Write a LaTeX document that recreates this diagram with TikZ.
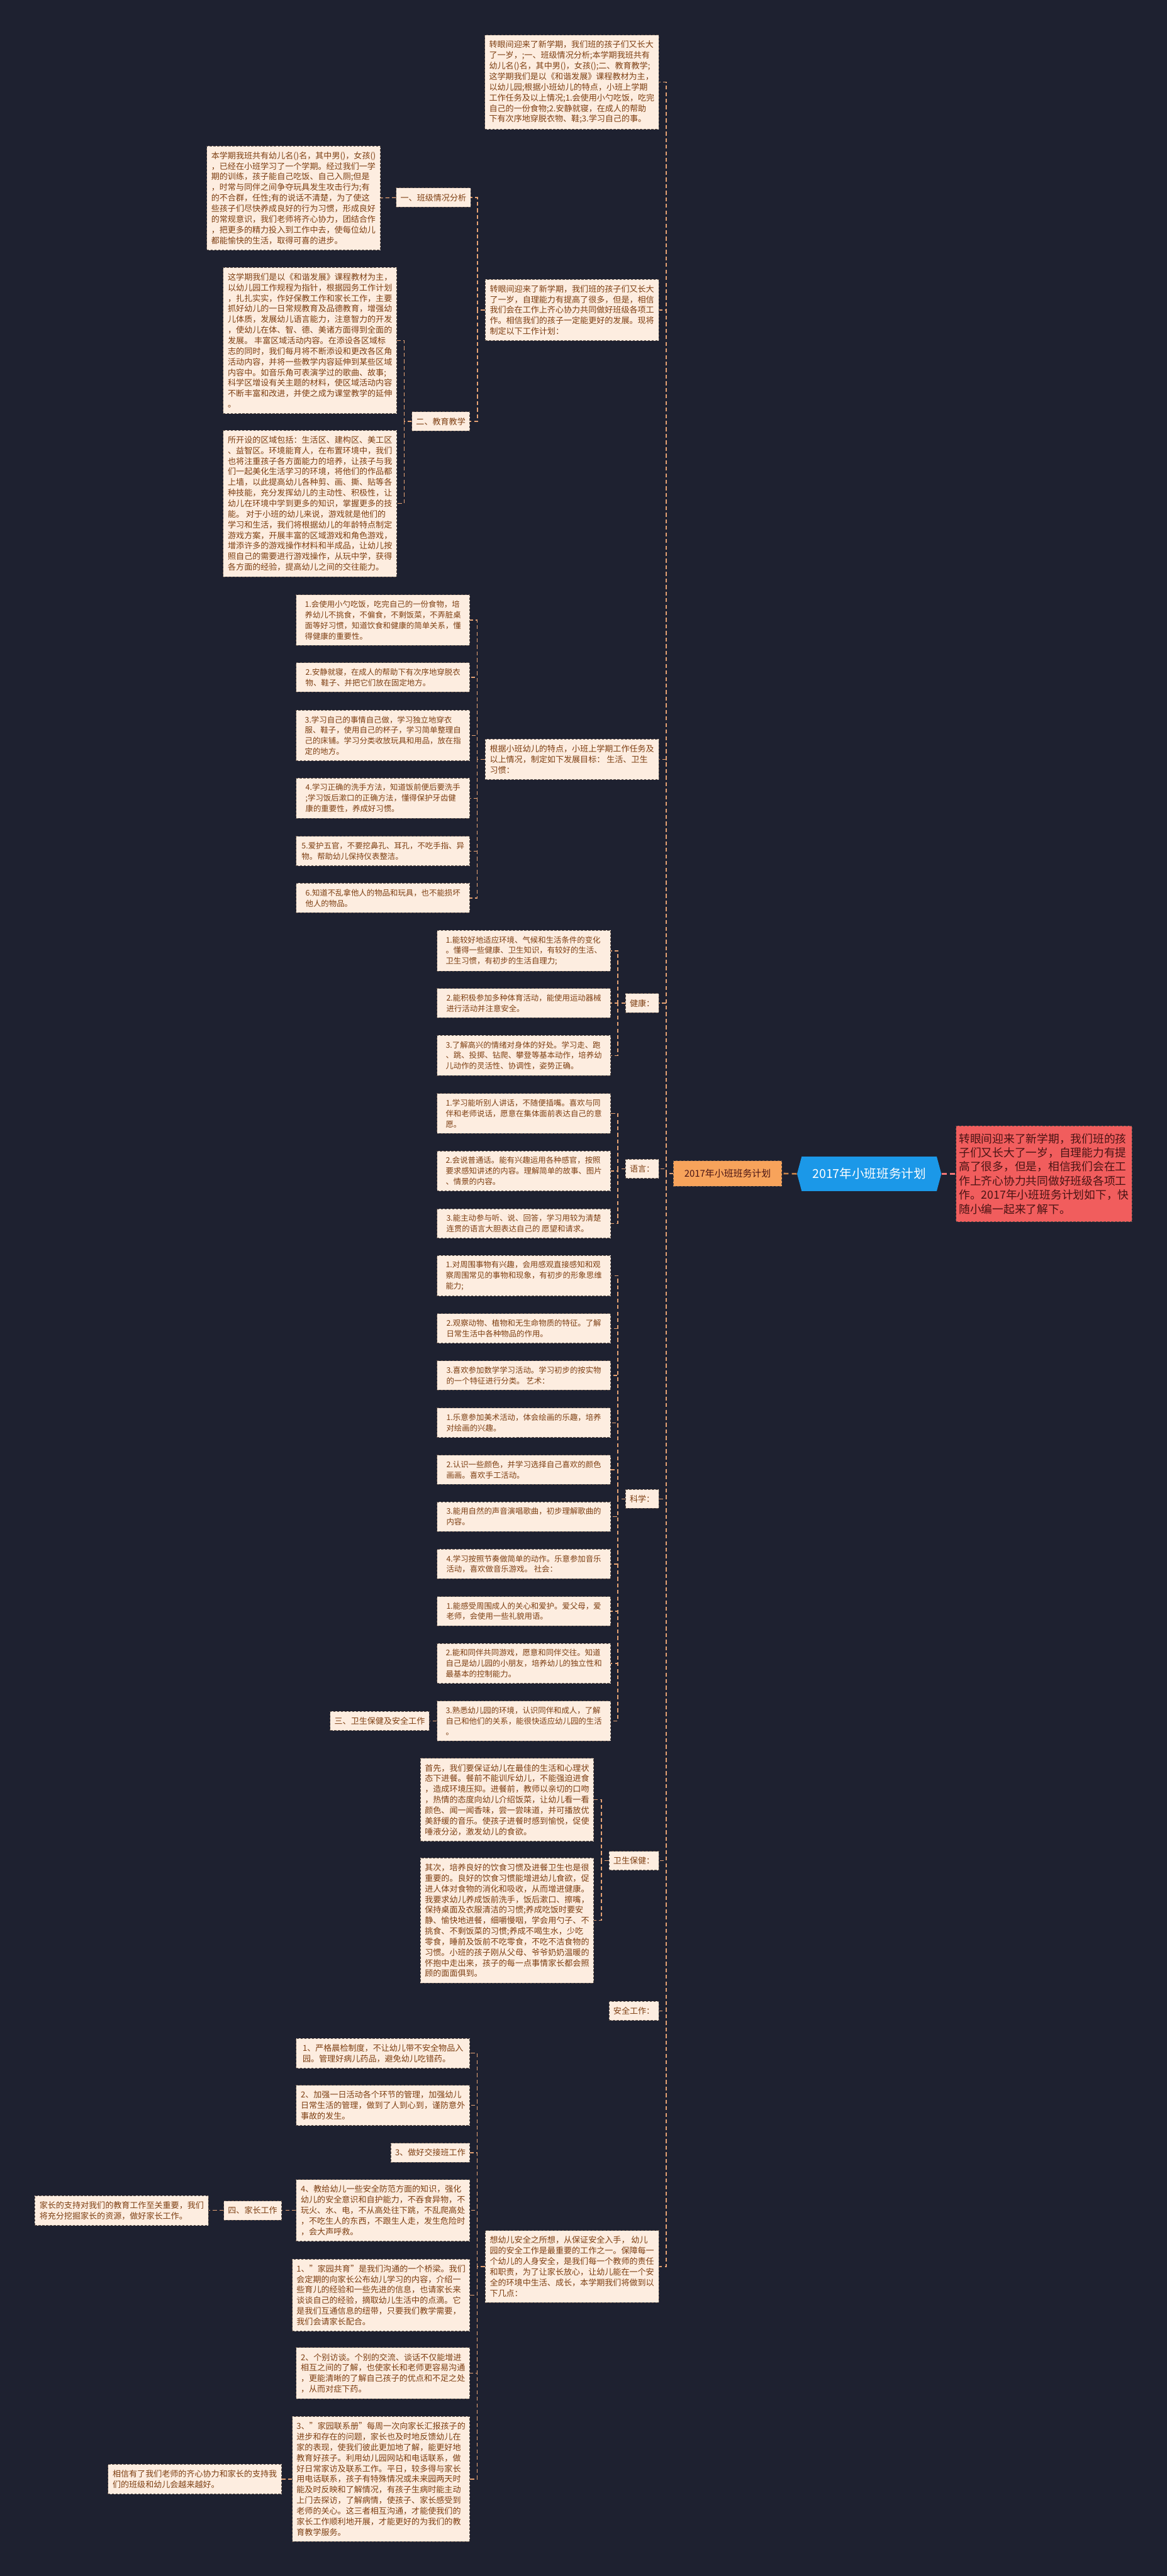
\documentclass[tikz,border=0pt]{standalone}
\usepackage{fontspec}
\setmainfont{Noto Sans CJK SC}
\usetikzlibrary{shapes.symbols}
\definecolor{bg}{HTML}{1E2130}
\definecolor{boxfill}{HTML}{FDEDE0}
\definecolor{boxline}{HTML}{5E5048}
\definecolor{boxtext}{HTML}{7E3F12}
\definecolor{linkc}{HTML}{E5A274}
\definecolor{rootc}{HTML}{1B98E8}
\definecolor{planc}{HTML}{F7A35B}
\definecolor{introc}{HTML}{F15D5D}
\definecolor{introtext}{HTML}{4A1414}
\begin{document}
\begin{tikzpicture}[x=1pt,y=-1pt,
    box/.style={draw=boxline,fill=boxfill,text=boxtext,line width=0.35pt,
      dash pattern=on 1.4pt off 0.9pt,align=left,inner xsep=2.6pt,inner ysep=3.5pt,
      minimum width=105.6pt,anchor=east,font=\fontsize{5}{6.45}\selectfont},
    spaced/.style={box,font=\fontsize{4.75}{6.45}\selectfont},
    tag/.style={box,minimum width=0pt},
    link/.style={draw=linkc,line width=0.5pt,dash pattern=on 2.4pt off 1.6pt}]
\useasboundingbox (0,0) rectangle (710,1568);
\fill[bg] (0,0) rectangle (710,1568);

% centre
\node[shape=signal,signal to=west and east,signal pointer angle=150,fill=rootc,text=white,
  minimum width=87.8pt,minimum height=21pt,inner sep=0pt,font=\fontsize{7.5}{8}\selectfont]
  (root) at (528.9,714.5) {2017年小班班务计划};
\node[draw=boxline,line width=0.35pt,dash pattern=on 1.4pt off 0.9pt,fill=planc,text=introtext,
  minimum width=66pt,minimum height=15.5pt,inner sep=0pt,font=\fontsize{5.7}{6}\selectfont]
  (plan) at (442.75,714.3) {2017年小班班务计划};
\node[draw=boxline,line width=0.35pt,dash pattern=on 1.4pt off 0.9pt,fill=introc,text=introtext,
  align=left,minimum width=107pt,minimum height=58.4pt,inner sep=0pt,font=\fontsize{6.8}{8.6}\selectfont]
  (intro) at (635.25,714.5) {转眼间迎来了新学期，我们班的孩\\子们又长大了一岁，自理能力有提\\高了很多，但是，相信我们会在工\\作上齐心协力共同做好班级各项工\\作。2017年小班班务计划如下，快\\随小编一起来了解下。};

% first part
\node[box] (summary) at (401,50) {转眼间迎来了新学期，我们班的孩子们又长大\\了一岁，;一、班级情况分析;本学期我班共有\\幼儿名()名，其中男()，女孩();二、教育教学;\\这学期我们是以《和谐发展》课程教材为主，\\以幼儿园;根据小班幼儿的特点，小班上学期\\工作任务及以上情况;1.会使用小勺吃饭，吃完\\自己的一份食物;2.安静就寝，在成人的帮助\\下有次序地穿脱衣物、鞋;3.学习自己的事。};
\node[box] (foreword) at (401,188.7) {转眼间迎来了新学期，我们班的孩子们又长大\\了一岁，自理能力有提高了很多，但是，相信\\我们会在工作上齐心协力共同做好班级各项工\\作。相信我们的孩子一定能更好的发展。现将\\制定以下工作计划：};
\node[tag] (class) at (286.5,120.25) {一、班级情况分析};
\node[box] (classtxt) at (231.6,120.5) {本学期我班共有幼儿名()名，其中男()，女孩()\\，已经在小班学习了一个学期。经过我们一学\\期的训练，孩子能自己吃饭、自己入厕;但是\\，时常与同伴之间争夺玩具发生攻击行为;有\\的不合群，任性;有的说话不清楚，为了使这\\些孩子们尽快养成良好的行为习惯，形成良好\\的常规意识，我们老师将齐心协力，团结合作\\，把更多的精力投入到工作中去，使每位幼儿\\都能愉快的生活，取得可喜的进步。};
\node[tag] (teach) at (286,256.5) {二、教育教学};
\node[box] (teach1) at (241.6,207.25) {这学期我们是以《和谐发展》课程教材为主，\\以幼儿园工作规程为指针，根据园务工作计划\\，扎扎实实，作好保教工作和家长工作，主要\\抓好幼儿的一日常规教育及品德教育，增强幼\\儿体质，发展幼儿语言能力，注意智力的开发\\，使幼儿在体、智、德、美诸方面得到全面的\\发展。 丰富区域活动内容。在添设各区域标\\志的同时，我们每月将不断添设和更改各区角\\活动内容，并将一些教学内容延伸到某些区域\\内容中。如音乐角可表演学过的歌曲、故事;\\科学区增设有关主题的材料，使区域活动内容\\不断丰富和改进，并使之成为课堂教学的延伸\\。};
\node[box] (teach2) at (241.6,306.5) {所开设的区域包括：生活区、建构区、美工区\\、益智区。环境能育人，在布置环境中，我们\\也将注重孩子各方面能力的培养，让孩子与我\\们一起美化生活学习的环境，将他们的作品都\\上墙，以此提高幼儿各种剪、画、撕、贴等各\\种技能，充分发挥幼儿的主动性、积极性，让\\幼儿在环境中学到更多的知识，掌握更多的技\\能。 对于小班的幼儿来说，游戏就是他们的\\学习和生活，我们将根据幼儿的年龄特点制定\\游戏方案，开展丰富的区域游戏和角色游戏，\\增添许多的游戏操作材料和半成品，让幼儿按\\照自己的需要进行游戏操作，从玩中学，获得\\各方面的经验，提高幼儿之间的交往能力。};

% goals
\node[box] (goals) at (401,462.25) {根据小班幼儿的特点，小班上学期工作任务及\\以上情况，制定如下发展目标： 生活、卫生\\习惯：};
\node[spaced] (g1) at (286,377.5) {1.会使用小勺吃饭，吃完自己的一份食物，培\\养幼儿不挑食，不偏食，不剩饭菜，不弄脏桌\\面等好习惯，知道饮食和健康的简单关系，懂\\得健康的重要性。};
\node[spaced] (g2) at (286,412.3) {2.安静就寝，在成人的帮助下有次序地穿脱衣\\物、鞋子、并把它们放在固定地方。};
\node[spaced] (g3) at (286,447.75) {3.学习自己的事情自己做，学习独立地穿衣\\服、鞋子，使用自己的杯子，学习简单整理自\\己的床铺。学习分类收放玩具和用品，放在指\\定的地方。};
\node[spaced] (g4) at (286,485.85) {4.学习正确的洗手方法，知道饭前便后要洗手\\;学习饭后漱口的正确方法，懂得保护牙齿健\\康的重要性，养成好习惯。};
\node[spaced] (g5) at (286,518) {5.爱护五官，不要挖鼻孔、耳孔，不吃手指、异\\物。帮助幼儿保持仪表整洁。};
\node[spaced] (g6) at (286,546.6) {6.知道不乱拿他人的物品和玩具，也不能损坏\\他人的物品。};

% health, language, science
\node[tag] (health) at (401,610.6) {健康：};
\node[spaced] (h1) at (371.7,578.75) {1.能较好地适应环境、气候和生活条件的变化\\。懂得一些健康、卫生知识，有较好的生活、\\卫生习惯，有初步的生活自理力;};
\node[spaced] (h2) at (371.7,610.6) {2.能积极参加多种体育活动，能使用运动器械\\进行活动并注意安全。};
\node[spaced] (h3) at (371.7,642.5) {3.了解高兴的情绪对身体的好处。学习走、跑\\、跳、投掷、钻爬、攀登等基本动作，培养幼\\儿动作的灵活性、协调性，姿势正确。};
\node[tag] (lang) at (401,711.5) {语言：};
\node[spaced] (l1) at (371.7,677.75) {1.学习能听别人讲话，不随便插嘴。喜欢与同\\伴和老师说话，愿意在集体面前表达自己的意\\愿。};
\node[spaced] (l2) at (371.7,712.75) {2.会说普通话。能有兴趣运用各种感官，按照\\要求感知讲述的内容。理解简单的故事、图片\\、情景的内容。};
\node[spaced] (l3) at (371.7,744.7) {3.能主动参与听、说、回答，学习用较为清楚\\连贯的语言大胆表达自己的 愿望和请求。};
\node[tag] (sci) at (401,912.3) {科学：};
\node[spaced] (s1) at (371.7,776.5) {1.对周围事物有兴趣，会用感观直接感知和观\\察周围常见的事物和现象，有初步的形象思维\\能力;};
\node[spaced] (s2) at (371.7,808.6) {2.观察动物、植物和无生命物质的特征。了解\\日常生活中各种物品的作用。};
\node[spaced] (s3) at (371.7,837.25) {3.喜欢参加数学学习活动。学习初步的按实物\\的一个特征进行分类。 艺术：};
\node[spaced] (s4) at (371.7,866) {1.乐意参加美术活动，体会绘画的乐趣，培养\\对绘画的兴趣。};
\node[spaced] (s5) at (371.7,894.65) {2.认识一些颜色，并学习选择自己喜欢的颜色\\画画。喜欢手工活动。};
\node[spaced] (s6) at (371.7,923.2) {3.能用自然的声音演唱歌曲，初步理解歌曲的\\内容。};
\node[spaced] (s7) at (371.7,952) {4.学习按照节奏做简单的动作。乐意参加音乐\\活动，喜欢做音乐游戏。 社会：};
\node[spaced] (s8) at (371.7,980.75) {1.能感受周围成人的关心和爱护。爱父母，爱\\老师，会使用一些礼貌用语。};
\node[spaced] (s9) at (371.7,1012.5) {2.能和同伴共同游戏，愿意和同伴交往。知道\\自己是幼儿园的小朋友，培养幼儿的独立性和\\最基本的控制能力。};
\node[spaced] (s10) at (371.7,1047.5) {3.熟悉幼儿园的环境，认识同伴和成人，了解\\自己和他们的关系，能很快适应幼儿园的生活\\。};
\node[tag] (care) at (261.3,1047.5) {三、卫生保健及安全工作};

% hygiene and safety
\node[tag] (hyg) at (401,1132.6) {卫生保健：};
\node[box] (f1) at (361.5,1095.5) {首先，我们要保证幼儿在最佳的生活和心理状\\态下进餐。餐前不能训斥幼儿，不能强迫进食\\，造成环境压抑。进餐前，教师以亲切的口吻\\，热情的态度向幼儿介绍饭菜，让幼儿看一看\\颜色、闻一闻香味，尝一尝味道，并可播放优\\美舒缓的音乐。使孩子进餐时感到愉悦，促使\\唾液分泌，激发幼儿的食欲。};
\node[box] (f2) at (361.5,1169) {其次，培养良好的饮食习惯及进餐卫生也是很\\重要的。良好的饮食习惯能增进幼儿食欲，促\\进人体对食物的消化和吸收，从而增进健康。\\我要求幼儿养成饭前洗手，饭后漱口、擦嘴，\\保持桌面及衣服清洁的习惯;养成吃饭时要安\\静、愉快地进餐，细嚼慢咽，学会用勺子、不\\挑食、不剩饭菜的习惯;养成不喝生水，少吃\\零食，睡前及饭前不吃零食，不吃不洁食物的\\习惯。小班的孩子刚从父母、爷爷奶奶温暖的\\怀抱中走出来，孩子的每一点事情家长都会照\\顾的面面俱到。};
\node[tag] (safe) at (401,1224) {安全工作：};
\node[box] (safety) at (401,1379.6) {想幼儿安全之所想，从保证安全入手， 幼儿\\园的安全工作是最重要的工作之一。保障每一\\个幼儿的人身安全，是我们每一个教师的责任\\和职责，为了让家长放心，让幼儿能在一个安\\全的环境中生活、成长，本学期我们将做到以\\下几点：};
\node[box] (p1) at (286,1249.8) {1、严格晨检制度，不让幼儿带不安全物品入\\园。管理好病儿药品，避免幼儿吃错药。};
\node[box] (p2) at (286,1281.5) {2、加强一日活动各个环节的管理，加强幼儿\\日常生活的管理，做到了人到心到，谨防意外\\事故的发生。};
\node[tag] (p3) at (286,1310.3) {3、做好交接班工作};
\node[box] (p4) at (286,1345.5) {4、教给幼儿一些安全防范方面的知识，强化\\幼儿的安全意识和自护能力，不吞食异物，不\\玩火、水、电，不从高处往下跳，不乱爬高处\\，不吃生人的东西，不跟生人走，发生危险时\\，会大声呼救。};
\node[box] (p5) at (286,1397) {1、"家园共育"是我们沟通的一个桥梁。我们\\会定期的向家长公布幼儿学习的内容，介绍一\\些育儿的经验和一些先进的信息，也请家长来\\谈谈自己的经验，摘取幼儿生活中的点滴。它\\是我们互通信息的纽带，只要我们教学需要，\\我们会请家长配合。};
\node[box] (p6) at (286,1444.5) {2、个别访谈。个别的交流、谈话不仅能增进\\相互之间的了解，也使家长和老师更容易沟通\\，更能清晰的了解自己孩子的优点和不足之处\\，从而对症下药。};
\node[box] (p7) at (286,1509) {3、"家园联系册"每周一次向家长汇报孩子的\\进步和存在的问题，家长也及时地反馈幼儿在\\家的表现，使我们彼此更加地了解，能更好地\\教育好孩子。利用幼儿园网站和电话联系，做\\好日常家访及联系工作。平日，较多得与家长\\用电话联系，孩子有特殊情况或未来园两天时\\能及时反映和了解情况，有孩子生病时能主动\\上门去探访，了解病情，使孩子、家长感受到\\老师的关心。这三者相互沟通，才能使我们的\\家长工作顺利地开展，才能更好的为我们的教\\育教学服务。};
\node[tag] (home) at (171.5,1345.5) {四、家长工作};
\node[box] (homenote) at (127,1345.5) {家长的支持对我们的教育工作至关重要，我们\\将充分挖掘家长的资源，做好家长工作。};
\node[box] (last) at (171.5,1509) {相信有了我们老师的齐心协力和家长的支持我\\们的班级和幼儿会越来越好。};

% connectors
\draw[draw=planc!80!black,line width=1pt,dash pattern=on 3pt off 2pt] (root.west) -- (plan.east);
\draw[draw=introc!85!white,line width=1pt,dash pattern=on 3pt off 2pt] (root.east) -- (intro.west);
\foreach \c in {summary,foreword,goals,health,lang,sci,hyg,safe,safety}
  \draw[link] (plan.west) -- ++(-4.2,0) |- (\c.east);
\foreach \c in {class,teach}
  \draw[link] (foreword.west) -- ++(-4.5,0) |- (\c.east);
\draw[link] (class.west) -- (classtxt.east);
\foreach \c in {teach1,teach2}
  \draw[link] (teach.west) -- ++(-4.6,0) |- (\c.east);
\foreach \c in {1,...,6}
  \draw[link] (goals.west) -- ++(-4.7,0) |- (g\c.east);
\foreach \c in {1,2,3} {
  \draw[link] (health.west) -- ++(-4.5,0) |- (h\c.east);
  \draw[link] (lang.west) -- ++(-4.5,0) |- (l\c.east);
}
\foreach \c in {1,...,10}
  \draw[link] (sci.west) -- ++(-4.5,0) |- (s\c.east);
\draw[link] (s10.west) -- (care.east);
\foreach \c in {1,2}
  \draw[link] (hyg.west) -- ++(-4.5,0) |- (f\c.east);
\foreach \c in {1,...,7}
  \draw[link] (safety.west) -- ++(-4.7,0) |- (p\c.east);
\draw[link] (p4.west) -- (home.east);
\draw[link] (home.west) -- (homenote.east);
\draw[link] (p7.west) -- (last.east);
\end{tikzpicture}
\end{document}
